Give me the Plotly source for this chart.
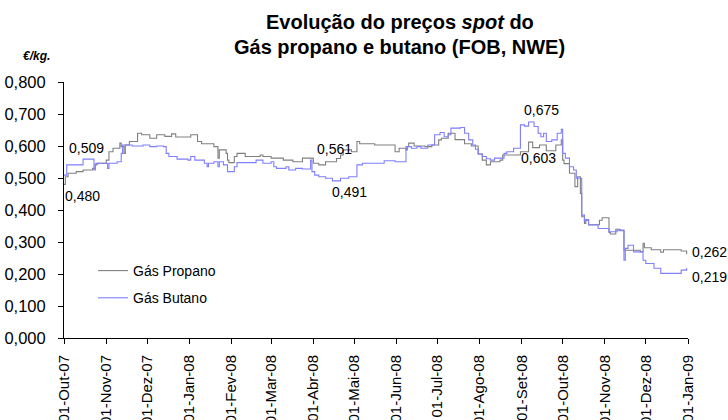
import plotly.graph_objects as go

# Spot prices (EUR/kg), FOB NWE
propano_dates = [
    "2007-10-01", "2007-10-02", "2007-10-04", "2007-10-10", "2007-10-15", "2007-10-22",
    "2007-10-24", "2007-10-25", "2007-11-01", "2007-11-03", "2007-11-06", "2007-11-11",
    "2007-11-12", "2007-11-14", "2007-11-15", "2007-11-18", "2007-11-24", "2007-11-27",
    "2007-12-03", "2007-12-08", "2007-12-14", "2007-12-19", "2007-12-22", "2008-01-02",
    "2008-01-07", "2008-01-10", "2008-01-19", "2008-01-22", "2008-01-23", "2008-01-28",
    "2008-01-29", "2008-01-30", "2008-02-03", "2008-02-05", "2008-02-11", "2008-02-22",
    "2008-02-24", "2008-03-01", "2008-03-10", "2008-03-17", "2008-03-24", "2008-04-01",
    "2008-04-05", "2008-04-10", "2008-04-18", "2008-04-21", "2008-04-23", "2008-04-29",
    "2008-05-03", "2008-05-05", "2008-05-16", "2008-05-31", "2008-06-03", "2008-06-08",
    "2008-06-09", "2008-06-10", "2008-06-14", "2008-06-22", "2008-06-27", "2008-07-02",
    "2008-07-04", "2008-07-09", "2008-07-14", "2008-07-21", "2008-07-26", "2008-07-31",
    "2008-08-03", "2008-08-06", "2008-08-09", "2008-08-16", "2008-08-18", "2008-08-31",
    "2008-09-06", "2008-09-09", "2008-09-14", "2008-09-19", "2008-09-26", "2008-09-30",
    "2008-10-01", "2008-10-02", "2008-10-06", "2008-10-10", "2008-10-12", "2008-10-14",
    "2008-10-15", "2008-10-17", "2008-10-18", "2008-10-20", "2008-10-27", "2008-10-28",
    "2008-10-30", "2008-11-03", "2008-11-04", "2008-11-05", "2008-11-09", "2008-11-12",
    "2008-11-15", "2008-11-22", "2008-11-27", "2008-11-29", "2008-11-30", "2008-12-05",
    "2008-12-10", "2008-12-12", "2008-12-14", "2008-12-18", "2008-12-27", "2008-12-31",
]
propano_vals = [
    0.480, 0.504, 0.515, 0.520, 0.525, 0.530,
    0.541, 0.546, 0.556, 0.582, 0.593, 0.609,
    0.598, 0.577, 0.603, 0.614, 0.640, 0.635,
    0.624, 0.635, 0.630, 0.638, 0.628, 0.635,
    0.614, 0.607, 0.598, 0.562, 0.588, 0.577,
    0.556, 0.548, 0.567, 0.577, 0.567, 0.572,
    0.567, 0.562, 0.556, 0.551, 0.562, 0.546,
    0.541, 0.551, 0.561, 0.572, 0.588, 0.582,
    0.614, 0.607, 0.603, 0.582, 0.593, 0.588,
    0.598, 0.609, 0.600, 0.598, 0.603, 0.619,
    0.624, 0.640, 0.620, 0.607, 0.600, 0.575,
    0.556, 0.541, 0.551, 0.556, 0.572, 0.582,
    0.612, 0.595, 0.603, 0.585, 0.603, 0.619,
    0.556, 0.545, 0.515, 0.473, 0.504, 0.452,
    0.379, 0.358, 0.368, 0.354, 0.354, 0.368,
    0.376, 0.376, 0.330, 0.325, 0.340, 0.335,
    0.274, 0.274, 0.270, 0.296, 0.282, 0.276,
    0.276, 0.268, 0.276, 0.276, 0.272, 0.262,
]

butano_dates = [
    "2007-10-01", "2007-10-03", "2007-10-15", "2007-10-23", "2007-10-24", "2007-10-26",
    "2007-11-02", "2007-11-03", "2007-11-09", "2007-11-12", "2007-11-13", "2007-11-20",
    "2007-11-28", "2007-12-03", "2007-12-08", "2007-12-13", "2007-12-15", "2007-12-17",
    "2007-12-23", "2007-12-31", "2008-01-02", "2008-01-05", "2008-01-12", "2008-01-14",
    "2008-01-15", "2008-01-19", "2008-01-22", "2008-01-23", "2008-01-26", "2008-01-29",
    "2008-02-03", "2008-02-05", "2008-02-19", "2008-02-24", "2008-03-01", "2008-03-03",
    "2008-03-05", "2008-03-12", "2008-03-14", "2008-03-19", "2008-03-24", "2008-03-30",
    "2008-03-31", "2008-04-02", "2008-04-05", "2008-04-10", "2008-04-15", "2008-04-21",
    "2008-04-27", "2008-05-03", "2008-05-07", "2008-05-16", "2008-05-23", "2008-05-31",
    "2008-06-08", "2008-06-12", "2008-06-16", "2008-06-19", "2008-06-24", "2008-06-29",
    "2008-07-03", "2008-07-06", "2008-07-09", "2008-07-11", "2008-07-18", "2008-07-21",
    "2008-07-24", "2008-07-27", "2008-07-29", "2008-07-31", "2008-08-03", "2008-08-06",
    "2008-08-09", "2008-08-12", "2008-08-19", "2008-08-21", "2008-08-26", "2008-08-31",
    "2008-09-03", "2008-09-06", "2008-09-10", "2008-09-13", "2008-09-15", "2008-09-17",
    "2008-09-19", "2008-09-23", "2008-09-27", "2008-09-30", "2008-10-01", "2008-10-03",
    "2008-10-06", "2008-10-09", "2008-10-11", "2008-10-15", "2008-10-17", "2008-10-18",
    "2008-10-20", "2008-10-27", "2008-11-04", "2008-11-10", "2008-11-15", "2008-11-16",
    "2008-11-18", "2008-11-22", "2008-11-29", "2008-12-01", "2008-12-07", "2008-12-12",
    "2008-12-27", "2008-12-31",
]
butano_vals = [
    0.509, 0.541, 0.559, 0.525, 0.544, 0.546,
    0.530, 0.546, 0.551, 0.577, 0.603, 0.600,
    0.603, 0.598, 0.600, 0.598, 0.577, 0.567,
    0.559, 0.556, 0.567, 0.556, 0.546, 0.535,
    0.546, 0.551, 0.535, 0.551, 0.541, 0.520,
    0.535, 0.548, 0.556, 0.546, 0.551, 0.535,
    0.530, 0.535, 0.525, 0.530, 0.528, 0.556,
    0.520, 0.509, 0.504, 0.499, 0.491, 0.499,
    0.504, 0.541, 0.546, 0.546, 0.554, 0.551,
    0.598, 0.593, 0.598, 0.593, 0.603, 0.635,
    0.642, 0.629, 0.635, 0.656, 0.658, 0.640,
    0.619, 0.603, 0.590, 0.575, 0.567, 0.560,
    0.556, 0.562, 0.577, 0.582, 0.593, 0.666,
    0.662, 0.675, 0.661, 0.640, 0.629, 0.640,
    0.614, 0.619, 0.640, 0.652, 0.577, 0.562,
    0.535, 0.525, 0.499, 0.384, 0.365, 0.370,
    0.353, 0.342, 0.332, 0.337, 0.243, 0.280,
    0.290, 0.269, 0.243, 0.233, 0.218, 0.202,
    0.212, 0.219,
]

tick_dates = [
    "2007-10-01", "2007-11-01", "2007-12-01", "2008-01-01", "2008-02-01", "2008-03-01",
    "2008-04-01", "2008-05-01", "2008-06-01", "2008-07-01", "2008-08-01", "2008-09-01",
    "2008-10-01", "2008-11-01", "2008-12-01", "2009-01-01",
]
tick_labels = [
    "01-Out-07", "01-Nov-07", "01-Dez-07", "01-Jan-08", "01-Fev-08", "01-Mar-08",
    "01-Abr-08", "01-Mai-08", "01-Jun-08", "01-Jul-08", "01-Ago-08", "01-Set-08",
    "01-Out-08", "01-Nov-08", "01-Dez-08", "01-Jan-09",
]

y_ticks = [0.0, 0.1, 0.2, 0.3, 0.4, 0.5, 0.6, 0.7, 0.8]

# Highlighted points: (series, date, xshift, yshift, xanchor)
callouts = [
    ("butano", "2007-10-01", 3, 27, "left"),
    ("propano", "2007-10-01", -1, -12, "left"),
    ("propano", "2008-04-18", -2, 9, "center"),
    ("butano", "2008-04-15", 17, -11, "center"),
    ("butano", "2008-09-06", 13, 12, "center"),
    ("propano", "2008-09-14", -1, -13, "center"),
    ("propano", "2008-12-31", 3, 2, "left"),
    ("butano", "2008-12-31", 3, -9, "left"),
]

FONT = "Liberation Sans, Arial, sans-serif"
GREY = "#808080"
BLUE = "#7f7fff"

fig = go.Figure()
fig.add_trace(go.Scatter(
    x=propano_dates, y=propano_vals, mode="lines", name="Gás Propano",
    line=dict(color=GREY, width=1.1, shape="hv"), legendgroup="p",
))
fig.add_trace(go.Scatter(
    x=butano_dates, y=butano_vals, mode="lines", name="Gás Butano",
    line=dict(color=BLUE, width=1.1, shape="hv"), legendgroup="b",
))

series = {
    "propano": dict(zip(propano_dates, propano_vals)),
    "butano": dict(zip(butano_dates, butano_vals)),
}
for name, d, xs, ys, xa in callouts:
    v = series[name][d]
    fig.add_annotation(
        x=d, y=v, xref="x", yref="y", showarrow=False,
        text=f"{v:.3f}".replace(".", ","),
        xanchor=xa, yanchor="middle", xshift=xs, yshift=ys,
        font=dict(family=FONT, size=14, color="black"),
    )

# Plot area geometry (pixels)
L, R, T, B = 64, 40, 82, 82
W, H = 728, 420
pw, ph = W - L - R, H - T - B


def px_to_paper(px, py):
    return (px - L) / pw, (H - B - py) / ph


# Title and unit label
for text, (px, py), size in [
    ("<b>Evolução do preços <i>spot</i> do</b>", (400, 22), 20),
    ("<b>Gás propano e butano (FOB, NWE)</b>", (399, 47), 20),
    ("<b><i>€/kg.</i></b>", (36, 56), 12),
]:
    x, y = px_to_paper(px, py)
    fig.add_annotation(
        x=x, y=y, xref="paper", yref="paper", showarrow=False, text=text,
        xanchor="center", yanchor="middle",
        font=dict(family=FONT, size=size, color="black"),
    )

lx, ly = px_to_paper(93, 255)
fig.update_layout(
    width=W, height=H,
    margin=dict(l=L, r=R, t=T, b=B, autoexpand=False),
    paper_bgcolor="white", plot_bgcolor="white",
    separators=",.",
    font=dict(family=FONT, size=14, color="black"),
    showlegend=True,
    legend=dict(
        x=lx, y=ly, xanchor="left", yanchor="top",
        bgcolor="rgba(0,0,0,0)", font=dict(family=FONT, size=14, color="black"),
        itemwidth=30, tracegroupgap=6,
    ),
    xaxis=dict(
        type="date", range=["2007-10-01", "2009-01-01"],
        tickmode="array", tickvals=tick_dates, ticktext=tick_labels,
        tickangle=-90, ticks="outside", ticklen=5, tickcolor="black",
        ticklabelstandoff=5,
        showline=True, linecolor="black", linewidth=1, showgrid=False, zeroline=False,
        tickfont=dict(family=FONT, size=15, color="black"),
    ),
    yaxis=dict(
        range=[0, 0.8], tickmode="array", tickvals=y_ticks, tickformat=".3f",
        ticks="outside", ticklen=5, tickcolor="black",
        ticklabelstandoff=9,
        showline=True, linecolor="black", linewidth=1, showgrid=False, zeroline=False,
        tickfont=dict(family=FONT, size=16.5, color="black"),
    ),
)

fig.write_html("out.html")
